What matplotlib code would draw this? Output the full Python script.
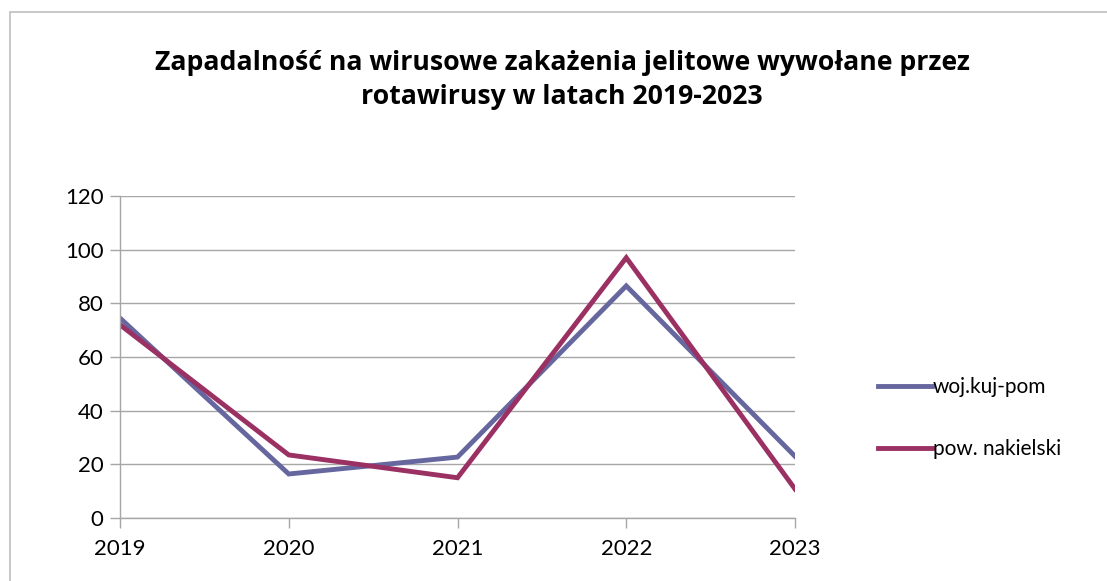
import matplotlib
matplotlib.use("Agg")
import matplotlib.pyplot as plt
from matplotlib.patches import Rectangle

plt.rcParams['font.family'] = ['Lato', 'DejaVu Sans']

years = ["2019", "2020", "2021", "2022", "2023"]
woj = [74.5, 16.4, 22.7, 86.5, 23.0]
pow_nak = [72.0, 23.5, 15.0, 97.0, 10.8]
series_labels = ["woj.kuj-pom", "pow. nakielski"]
colors = ["#67679F", "#9B3063"]
title = "Zapadalność na wirusowe zakażenia jelitowe wywołane przez\nrotawirusy w latach 2019-2023"

W, H = 1107, 581
fig = plt.figure(figsize=(W/100, H/100), dpi=100)
fig.patches.append(Rectangle((10/W, -0.1), 1.2, 1.1 - 12/H, transform=fig.transFigure,
                             fill=False, edgecolor="#BFBFBF", linewidth=1.2))

ax = fig.add_axes([120/W, 1-518/H, (795-120)/W, (518-196)/H])
x = list(range(len(years)))
ax.plot(x, woj, color=colors[0], lw=3.5, label=series_labels[0], solid_joinstyle='miter')
ax.plot(x, pow_nak, color=colors[1], lw=3.5, label=series_labels[1], solid_joinstyle='miter')

ax.set_xlim(0, len(years)-1)
ax.set_ylim(0, 120)
ax.set_yticks(range(0, 121, 20))
ax.set_xticks(x)
ax.set_xticklabels(years)
ax.yaxis.grid(True, color="#A6A6A6", lw=1)
ax.set_axisbelow(True)
for s in ["top", "right"]:
    ax.spines[s].set_visible(False)
for s in ["left", "bottom"]:
    ax.spines[s].set_color("#A6A6A6")
    ax.spines[s].set_linewidth(1)
ax.tick_params(axis="both", colors="#A6A6A6", length=7, width=1, labelcolor="black", labelsize=16)
ax.tick_params(axis="y", pad=5)
ax.tick_params(axis="x", pad=8)

fig.text(562/W, 1-80/H, title, ha="center", va="center", fontsize=19.2, fontweight="bold",
         family=["Open Sans", "DejaVu Sans"], linespacing=1.4)

leg = fig.legend(loc="center left", bbox_to_anchor=(859/W, 1-418/H), frameon=False,
                 fontsize=15, handlelength=2.6, handletextpad=0.05, labelspacing=2.0)

fig.savefig("out.png", dpi=100)
